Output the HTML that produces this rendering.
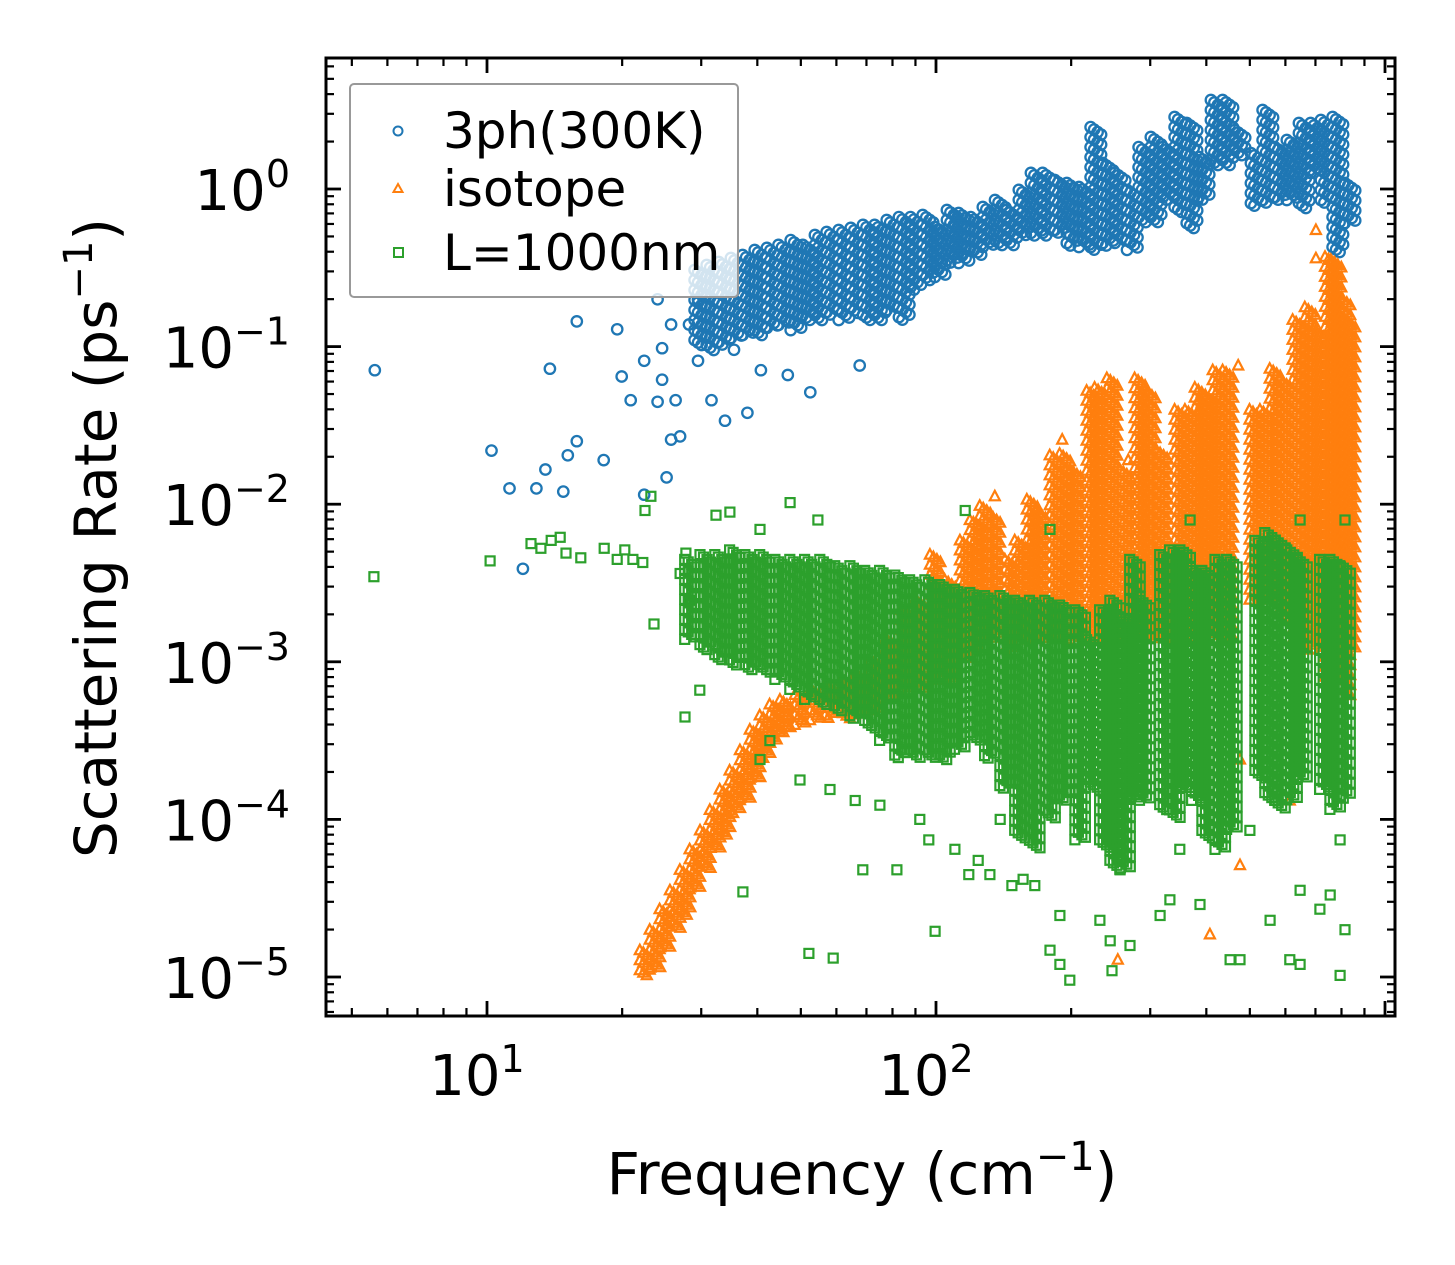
<!DOCTYPE html>
<html><head><meta charset="utf-8"><style>
html,body{margin:0;padding:0;background:#fff;}
svg{display:block;font-family:"DejaVu Sans","Liberation Sans",sans-serif;}
</style></head><body>
<svg id="chart" width="1455" height="1265" viewBox="0 0 1455 1265" xmlns="http://www.w3.org/2000/svg">
<rect width="1455" height="1265" fill="#fff"/>
<g id="marks"></g>
<g id="axes"></g>
<text x="862" y="1194" font-size="58" text-anchor="middle">Frequency (cm<tspan dy="-24" font-size="40">−1</tspan><tspan dy="24">)</tspan></text>
<text transform="translate(116,538) rotate(-90)" font-size="58" text-anchor="middle">Scattering Rate (ps<tspan dy="-24" font-size="40">−1</tspan><tspan dy="24">)</tspan></text>
<g>
<rect x="350" y="84" width="388" height="213" rx="4" fill="#fff" fill-opacity="0.8" stroke="#999999" stroke-width="2"/>
<circle cx="398" cy="131" r="4.5" fill="none" stroke="#1f77b4" stroke-width="2"/>
<text x="443" y="148" font-size="50">3ph(300K)</text>
<path d="M398,184 L402.5,192 L393.5,192 Z" fill="none" stroke="#ff7f0e" stroke-width="2"/>
<text x="443" y="206" font-size="50">isotope</text>
<rect x="394" y="248" width="9" height="9" fill="none" stroke="#2ca02c" stroke-width="2"/>
<text x="443" y="270" font-size="50">L=1000nm</text>
</g>
</svg>
<script>
// ---- data (log10 frequency [cm^-1], log10 rate [ps^-1]) ----
const blueColF=[1.474,1.501,1.528,1.555,1.581,1.608,1.635,1.661,1.688,1.715,1.742,1.768,1.795,1.822,1.849,1.875,1.902,1.929,1.955,1.982,2.009,2.036,2.062,2.089,2.116,2.143,2.169,2.196,2.223,2.249,2.276,2.303,2.330,2.356,2.383,2.410,2.437,2.463,2.490,2.517,2.543,2.570,2.597,2.624,2.650,2.677,2.713,2.739,2.766,2.793,2.820,2.846,2.869,2.895,2.922];
const blueColHi=[-0.514,-0.482,-0.463,-0.438,-0.419,-0.387,-0.374,-0.355,-0.324,-0.355,-0.292,-0.273,-0.260,-0.247,-0.228,-0.228,-0.197,-0.178,-0.178,-0.165,-0.241,-0.133,-0.152,-0.178,-0.114,-0.070,-0.133,-0.006,0.102,0.102,0.057,0.038,0.013,0.393,0.165,0.102,-0.006,0.266,0.330,0.266,0.457,0.419,0.203,0.565,0.565,0.374,0.228,0.501,0.266,0.311,0.419,0.419,0.438,0.457,0.038];
const blueColLo=[-0.990,-1.022,-0.990,-0.958,-0.926,-0.926,-0.895,-0.863,-0.895,-0.831,-0.831,-0.799,-0.831,-0.799,-0.831,-0.831,-0.768,-0.831,-0.641,-0.577,-0.558,-0.470,-0.470,-0.431,-0.368,-0.368,-0.368,-0.305,-0.305,-0.305,-0.279,-0.368,-0.368,-0.387,-0.368,-0.343,-0.387,-0.216,-0.216,-0.070,-0.152,-0.260,-0.070,0.140,0.140,0.203,-0.114,-0.089,-0.070,-0.070,-0.133,0.102,-0.089,-0.406,-0.216];
const blueF=[0.75,1.01,1.05,1.08,1.11,1.13,1.14,1.17,1.18,1.20,1.20,1.26,1.29,1.30,1.35,1.35,1.32,1.38,1.39,1.39,1.40,1.41,1.41,1.42,1.43,1.45,1.47,1.50,1.53,1.58,1.38,1.47,1.55,1.61,1.67,1.72,1.83];
const blueR=[-1.15,-1.66,-1.90,-2.41,-1.90,-1.78,-1.14,-1.92,-1.69,-0.84,-1.60,-1.72,-0.89,-1.19,-1.94,-1.09,-1.34,-1.35,-1.01,-1.21,-1.83,-0.86,-1.59,-1.34,-1.57,-0.86,-1.09,-1.34,-1.47,-1.42,-0.70,-0.70,-1.02,-1.15,-1.18,-1.29,-1.12];

const orangeColF=[1.352,1.374,1.396,1.419,1.441,1.463,1.486,1.508,1.530,1.552,1.575,1.597,1.619,1.641,1.664,1.697,1.731,1.764,1.797,1.831,1.864,1.898,1.931,1.964,1.998,2.031,2.065,2.087,2.109,2.131,2.165,2.187,2.214,2.232,2.265,2.287,2.310,2.347,2.365,2.392,2.421,2.454,2.477,2.503,2.543,2.566,2.588,2.606,2.628,2.650,2.710,2.733,2.755,2.777,2.806,2.833,2.851,2.878,2.891,2.911,2.922];
const orangeColHi=[-4.83,-4.70,-4.57,-4.45,-4.32,-4.19,-4.07,-3.94,-3.81,-3.69,-3.56,-3.43,-3.34,-3.27,-3.24,-3.21,-3.18,-3.15,-3.12,-3.08,-2.99,-2.86,-2.67,-2.61,-2.32,-2.48,-2.23,-2.10,-2.01,-2.07,-2.35,-2.23,-1.97,-2.04,-1.69,-1.68,-1.78,-1.28,-1.26,-1.20,-1.78,-1.20,-1.28,-1.66,-1.40,-1.40,-1.26,-1.31,-1.15,-1.15,-1.40,-1.40,-1.14,-1.21,-0.83,-0.75,-0.89,-0.43,-0.45,-0.69,-0.83];
const orangeColLo=[-4.99,-4.96,-4.83,-4.70,-4.61,-4.45,-4.32,-4.19,-4.10,-3.97,-3.88,-3.75,-3.62,-3.50,-3.46,-3.40,-3.37,-3.37,-3.37,-3.34,-3.31,-3.24,-3.18,-3.18,-3.12,-3.12,-2.99,-2.93,-2.86,-2.86,-2.93,-2.86,-2.86,-2.86,-2.86,-2.86,-2.86,-2.86,-2.86,-2.86,-2.86,-2.86,-2.86,-2.86,-2.86,-2.86,-2.86,-2.86,-2.86,-2.86,-2.61,-2.61,-2.61,-2.73,-2.93,-2.93,-2.93,-3.12,-3.12,-3.24,-2.93];
const orangeF=[2.673,2.846,2.846,2.281,2.131,2.428,2.911,2.911,2.677,2.610,2.405,2.677,2.788,2.543];
const orangeR=[-1.12,-0.26,-0.44,-1.59,-1.95,-1.72,-2.29,-2.99,-4.29,-4.73,-4.89,-3.62,-3.88,-3.37];

const greenColF=[1.452,1.486,1.519,1.552,1.586,1.619,1.653,1.686,1.719,1.753,1.786,1.820,1.853,1.886,1.920,1.953,1.987,2.020,2.053,2.087,2.120,2.154,2.187,2.220,2.254,2.287,2.321,2.347,2.376,2.399,2.421,2.443,2.465,2.510,2.532,2.555,2.581,2.604,2.633,2.659,2.722,2.744,2.766,2.793,2.815,2.866,2.889,2.911];
const greenColHi=[-2.35,-2.32,-2.32,-2.29,-2.32,-2.32,-2.35,-2.35,-2.35,-2.35,-2.39,-2.39,-2.42,-2.42,-2.45,-2.48,-2.48,-2.51,-2.54,-2.56,-2.58,-2.58,-2.61,-2.61,-2.61,-2.64,-2.67,-2.86,-2.67,-2.61,-2.73,-2.35,-2.61,-2.32,-2.29,-2.29,-2.42,-2.42,-2.35,-2.35,-2.23,-2.18,-2.23,-2.29,-2.35,-2.35,-2.35,-2.39];
const greenColLo=[-2.86,-2.93,-2.99,-3.02,-3.05,-3.08,-3.12,-3.18,-3.24,-3.27,-3.31,-3.37,-3.43,-3.50,-3.62,-3.62,-3.62,-3.62,-3.56,-3.50,-3.62,-3.81,-4.13,-4.19,-4.00,-3.88,-4.13,-3.81,-4.19,-4.32,-4.32,-3.88,-3.88,-3.94,-4.00,-3.81,-3.88,-4.13,-4.19,-4.07,-3.75,-3.88,-3.94,-3.88,-3.75,-3.81,-3.94,-3.88];
const greenF=[0.748,1.007,1.098,1.120,1.143,1.163,1.176,1.209,1.261,1.290,1.307,1.325,1.347,1.372,1.430,1.443,1.452,1.352,1.365,1.441,1.474,1.510,1.541,1.608,1.675,1.737,1.570,1.717,1.771,1.998,1.837,1.913,1.984,1.820,1.964,1.630,1.608,1.697,1.764,1.875,2.254,2.276,2.298,2.365,2.388,2.432,2.499,2.521,2.588,2.655,2.677,2.744,2.788,2.811,2.855,2.878,2.900,2.911,2.392,2.169,2.194,2.220,2.276,2.410,2.543,2.699,2.900,2.073,2.094,2.143,2.042,2.120,2.811,2.911,2.811,2.254,2.566,2.065];
const greenR=[-2.46,-2.36,-2.25,-2.28,-2.23,-2.21,-2.31,-2.34,-2.28,-2.35,-2.29,-2.35,-2.37,-2.76,-2.44,-2.31,-2.61,-2.04,-1.95,-3.35,-3.18,-2.07,-2.05,-2.16,-1.99,-2.10,-4.46,-4.85,-4.88,-4.71,-4.32,-4.32,-4.13,-3.88,-4.00,-3.50,-3.62,-3.75,-3.81,-3.91,-4.83,-4.92,-5.02,-4.64,-4.77,-4.80,-4.61,-4.51,-4.54,-4.89,-4.89,-4.64,-4.89,-4.92,-4.57,-4.48,-4.99,-4.70,-4.96,-4.42,-4.38,-4.42,-4.61,-4.32,-4.19,-4.07,-4.13,-4.35,-4.26,-4.00,-4.19,-4.35,-4.45,-2.10,-2.10,-2.16,-2.10,-2.04];

const xTickExp=[1,2];
const yTickExp=[0,-1,-2,-3,-4,-5];

// ---- axes ----
const L=326,R=1395,T=58,B=1016;
const X0=487, DX=449;
const Y0=189, DY=157.6;
const X=lf=>X0+(lf-1)*DX;
const Y=lr=>Y0-lr*DY;
const NS="http://www.w3.org/2000/svg";
const marks=document.getElementById('marks');
const axes=document.getElementById('axes');
function mk(tag,attrs,parent){const e=document.createElementNS(NS,tag);for(const k in attrs)e.setAttribute(k,attrs[k]);parent.appendChild(e);return e;}

function circle(g,x,y){return mk('circle',{cx:x.toFixed(1),cy:y.toFixed(1),r:5.2,fill:'none',stroke:'#1f77b4','stroke-width':2.3},g);}
function tri(g,x,y){return mk('path',{d:`M${x.toFixed(1)},${(y-5.5).toFixed(1)}L${(x+5).toFixed(1)},${(y+4).toFixed(1)}L${(x-5).toFixed(1)},${(y+4).toFixed(1)}Z`,fill:'none',stroke:'#ff7f0e','stroke-width':2.2},g);}
function sq(g,x,y){return mk('rect',{x:(x-4.5).toFixed(1),y:(y-4.5).toFixed(1),width:9,height:9,fill:'none',stroke:'#2ca02c','stroke-width':2.2},g);}

function drawSeries(name,colF,colHi,colLo,ptF,ptR,fn){
  const g=mk('g',{},marks);
  
  
  for(let i=0;i<colF.length;i++){
    const yt=Y(colHi[i]), yb=Y(colLo[i]), xc=X(colF[i]);
    let k=0;
    for(let y=yt;y<=yb+0.1;y+=2.5){
      const off=(k%4-1.5)*3.5; k++;
      const m=fn(g,xc+off,y);
      
      
    }
  }
  for(let i=0;i<ptF.length;i++){
    const m=fn(g,X(ptF[i]),Y(ptR[i]));
    
    
  }
}
drawSeries('3ph',blueColF,blueColHi,blueColLo,blueF,blueR,circle);
drawSeries('isotope',orangeColF,orangeColHi,orangeColLo,orangeF,orangeR,tri);
drawSeries('boundary',greenColF,greenColHi,greenColLo,greenF,greenR,sq);

const frame=mk('rect',{x:L,y:T,width:R-L,height:B-T,fill:'none',stroke:'#000','stroke-width':3},axes);


const lxMin=1+(L-X0)/DX, lxMax=1+(R-X0)/DX;
for(let d=0;d<=3;d++){for(let m=1;m<=9;m++){
  const lf=d+Math.log10(m); if(lf<lxMin||lf>lxMax)continue;
  const x=X(lf), len=m===1?15:8, w=m===1?2.8:2.2;
  mk('line',{x1:x,y1:B,x2:x,y2:B-len,stroke:'#000','stroke-width':w},axes);
  mk('line',{x1:x,y1:T,x2:x,y2:T+len,stroke:'#000','stroke-width':w},axes);
}}
xTickExp.forEach(e=>{
  const t=mk('text',{x:X(e)-10,y:1095,'font-size':56,'text-anchor':'middle'},axes);
  
  
  t.innerHTML=`10<tspan dy="-23" font-size="38">${e}</tspan>`;
});
const lyMax=(Y0-T)/DY, lyMin=(Y0-B)/DY;
for(let d=-6;d<=0;d++){for(let m=1;m<=9;m++){
  const lr=d+Math.log10(m); if(lr<lyMin||lr>lyMax)continue;
  const y=Y(lr), len=m===1?15:8, w=m===1?2.8:2.2;
  mk('line',{x1:L,y1:y,x2:L+len,y2:y,stroke:'#000','stroke-width':w},axes);
  mk('line',{x1:R,y1:y,x2:R-len,y2:y,stroke:'#000','stroke-width':w},axes);
}}
yTickExp.forEach(e=>{
  const t=mk('text',{x:290,y:Y(e)+21,'font-size':56,'text-anchor':'end'},axes);
  
  
  const s=e<0?'−'+(-e):''+e;
  t.innerHTML=`10<tspan dy="-23" font-size="38">${s}</tspan>`;
});
</script>
</body></html>
